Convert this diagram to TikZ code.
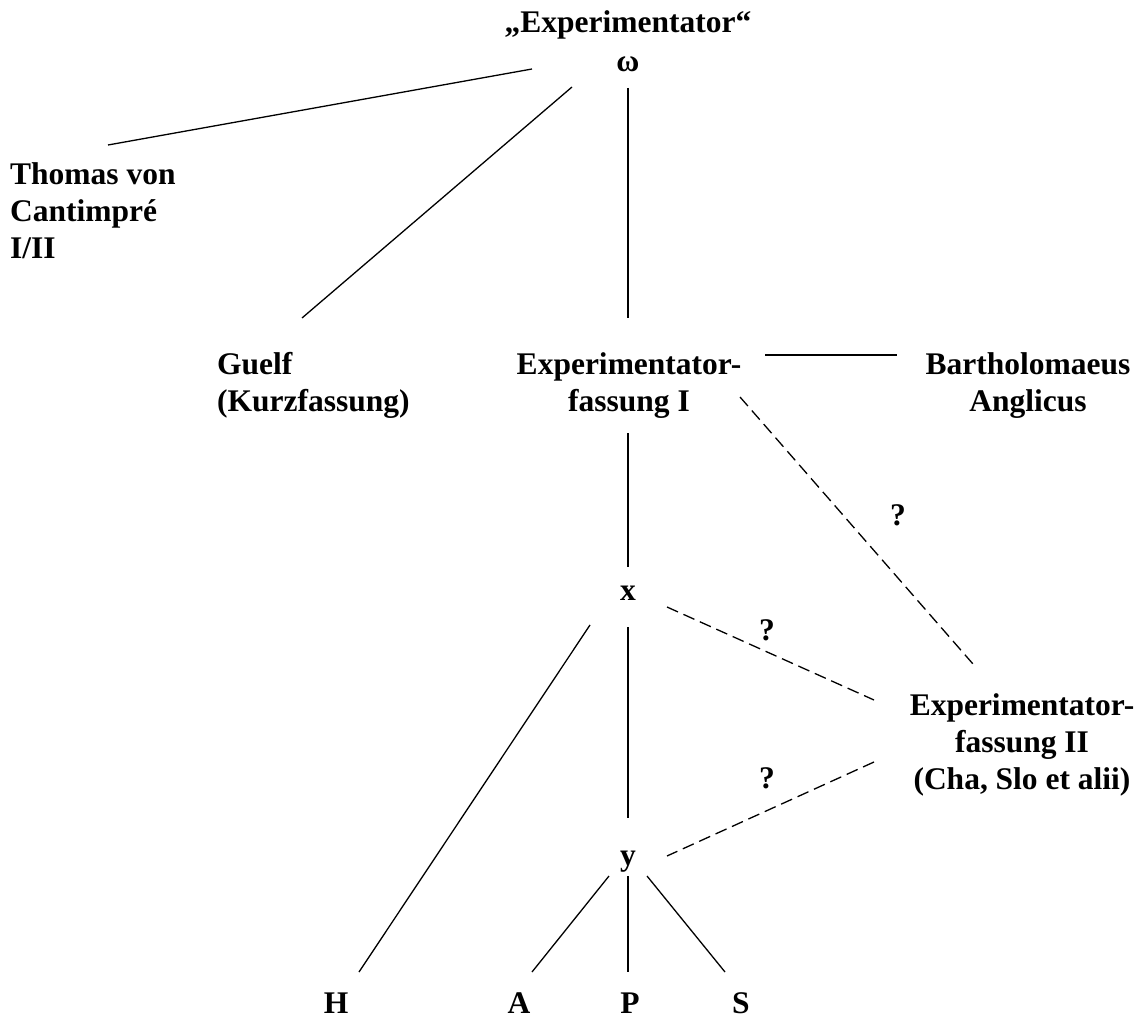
\documentclass[tikz,border=0pt]{standalone}
\usepackage{fontspec}
\setmainfont{Liberation Serif}
\begin{document}
\begin{tikzpicture}[x=1pt,y=-1pt,
  lbl/.style={inner sep=0pt,font=\fontsize{31.5}{37}\selectfont\bfseries},
  solidline/.style={line width=1.3pt},
  dashline/.style={line width=1.3pt,dash pattern=on 12pt off 6pt}]
\useasboundingbox (0,0) rectangle (1144,1019);
% labels
\node[lbl,anchor=base] (exp) at (628,33) {„Experimentator“};
\node[lbl,anchor=base] (omega) at (628,72) {ω};
\node[lbl,anchor=base west] (thomas) at (10,185) {\begin{tabular}[t]{@{}l@{}}Thomas von\\Cantimpré\\I/II\end{tabular}};
\node[lbl,anchor=base west] (guelf) at (217,374) {\begin{tabular}[t]{@{}l@{}}Guelf\\(Kurzfassung)\end{tabular}};
\node[lbl,anchor=base] (ef1) at (629,374) {\begin{tabular}[t]{@{}c@{}}Experimentator-\\fassung I\end{tabular}};
\node[lbl,anchor=base] (bart) at (1028,374) {\begin{tabular}[t]{@{}c@{}}Bartholomaeus\\Anglicus\end{tabular}};
\node[lbl,anchor=base] (q1) at (898,525) {?};
\node[lbl,anchor=base] (x) at (628,600) {x};
\node[lbl,anchor=base] (q2) at (767,640) {?};
\node[lbl,anchor=base] (ef2) at (1022,715) {\begin{tabular}[t]{@{}c@{}}Experimentator-\\fassung II\\(Cha, Slo et alii)\end{tabular}};
\node[lbl,anchor=base] (q3) at (767,788) {?};
\node[lbl,anchor=base] (y) at (628,865) {y};
\node[lbl,anchor=base] (H) at (336,1013) {H};
\node[lbl,anchor=base] (A) at (519,1013) {A};
\node[lbl,anchor=base] (P) at (630,1013) {P};
\node[lbl,anchor=base] (S) at (741,1013) {S};
% line end points
\coordinate (om-th) at (532,69);  \coordinate (th-om) at (108,145);
\coordinate (om-gu) at (572,87);  \coordinate (gu-om) at (302,318);
\coordinate (om-e1) at (628,88);  \coordinate (e1-om) at (628,318);
\coordinate (e1-ba) at (765,355); \coordinate (ba-e1) at (897,355);
\coordinate (e1-x) at (628,433);  \coordinate (x-e1) at (628,567);
\coordinate (e1-e2) at (740,397); \coordinate (e2-e1) at (973,664);
\coordinate (x-H) at (590,625);   \coordinate (H-x) at (359,972);
\coordinate (x-y) at (628,627);   \coordinate (y-x) at (628,818);
\coordinate (x-e2) at (667,607);  \coordinate (e2-x) at (874,700);
\coordinate (e2-y) at (874,762);  \coordinate (y-e2) at (667,856);
\coordinate (y-A) at (609,876);   \coordinate (A-y) at (532,972);
\coordinate (y-P) at (628,876);   \coordinate (P-y) at (628,972);
\coordinate (y-S) at (647,876);   \coordinate (S-y) at (725,972);
% connectors
\draw[solidline] (om-th) -- (th-om);
\draw[solidline] (om-gu) -- (gu-om);
\draw[solidline] (om-e1) -- (e1-om);
\draw[solidline] (e1-ba) -- (ba-e1);
\draw[solidline] (e1-x) -- (x-e1);
\draw[solidline] (x-H) -- (H-x);
\draw[solidline] (x-y) -- (y-x);
\draw[solidline] (y-A) -- (A-y);
\draw[solidline] (y-P) -- (P-y);
\draw[solidline] (y-S) -- (S-y);
\draw[dashline] (e1-e2) -- (e2-e1);
\draw[dashline] (x-e2) -- (e2-x);
\draw[dashline] (e2-y) -- (y-e2);
\end{tikzpicture}
\end{document}
